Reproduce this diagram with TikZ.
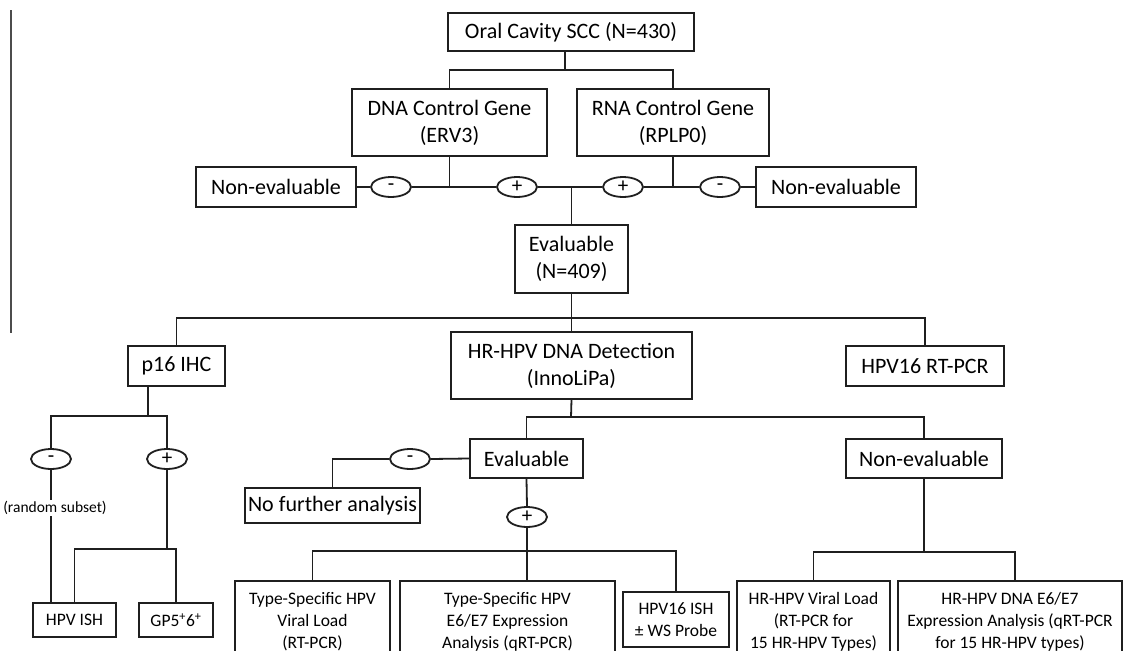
\documentclass[tikz,border=0pt]{standalone}
\usepackage{fontspec}
\setmainfont{Carlito}
\usetikzlibrary{calc}
\usetikzlibrary{shapes.geometric}
\tikzset{
  box/.style={draw=black!88, line width=1.8pt, fill=white, inner sep=0pt, align=center, font=\fontsize{22}{27}\selectfont},
  sbox/.style={box, font=\fontsize{17.5}{22}\selectfont},
  sign/.style={draw=black!88, line width=1.8pt, fill=white, ellipse, inner sep=0pt, minimum width=40pt, minimum height=20pt, font=\fontsize{21}{21}\selectfont},
  conn/.style={draw=black!88, line width=1.8pt},
  lbl/.style={fill=white, inner sep=1pt, font=\fontsize{15.5}{16}\selectfont}
}
\begin{document}
\begin{tikzpicture}[x=1pt,y=-1pt]
\clip (0,0) rectangle (1136,651);
\fill[white] (0,0) rectangle (1136,651);
% nodes
\node[box, minimum width=246pt, minimum height=38pt] (top) at (571,32) {Oral Cavity SCC (N=430)};
\node[box, minimum width=195pt, minimum height=67pt] (dna) at (449.5,122.5) {DNA Control Gene\\(ERV3)};
\node[box, minimum width=192pt, minimum height=67pt] (rna) at (673,122.5) {RNA Control Gene\\(RPLP0)};
\node[box, minimum width=160pt, minimum height=40pt] (nel) at (276,187) {Non-evaluable};
\node[box, minimum width=160pt, minimum height=40pt] (ner) at (836,187) {Non-evaluable};
\node[sign] (e1) at (391,187) {-};
\node[sign] (e2) at (517,187) {+};
\node[sign] (e3) at (623,187) {+};
\node[sign] (e4) at (720,187) {-};
\node[box, minimum width=113pt, minimum height=68pt] (ev) at (571.5,259) {Evaluable\\(N=409)};
\node[box, minimum width=97pt, minimum height=40pt] (p16) at (176.5,366) {p16 IHC};
\node[box, minimum width=241pt, minimum height=67pt] (hr) at (571.5,365.5) {HR-HPV DNA Detection\\(InnoLiPa)};
\node[box, minimum width=158pt, minimum height=40pt] (rt) at (925,366) {HPV16 RT-PCR};
\node[box, minimum width=113pt, minimum height=39pt] (ev2) at (526.5,458.5) {Evaluable};
\node[box, minimum width=156pt, minimum height=39pt] (ne2) at (924,458.5) {Non-evaluable};
\node[sign] (e5) at (410,459) {-};
\node[sign] (e6) at (527,517) {+};
\node[box, minimum width=175pt, minimum height=35pt] (nfa) at (332.5,505.5) {No further analysis};
\node[sign] (e7) at (51,459) {-};
\node[sign] (e8) at (167,459) {+};
\node[sbox, minimum width=155pt, minimum height=82pt, anchor=north] (ts1) at (312.5,580) {Type-Specific HPV\\Viral Load\\(RT-PCR)};
\node[sbox, minimum width=215pt, minimum height=82pt, anchor=north] (ts2) at (507.5,580) {Type-Specific HPV\\E6/E7 Expression\\Analysis (qRT-PCR)};
\node[sbox, minimum width=106pt, minimum height=55pt] (ish16) at (676,619.5) {HPV16 ISH\\± WS Probe};
\node[sbox, minimum width=153pt, minimum height=82pt, anchor=north] (hrvl) at (813.5,580) {HR-HPV Viral Load\\(RT-PCR for\\15 HR-HPV Types)};
\node[sbox, minimum width=224pt, minimum height=82pt, anchor=north] (hre6) at (1010,580) {HR-HPV DNA E6/E7\\Expression Analysis (qRT-PCR\\for 15 HR-HPV types)};
\node[sbox, minimum width=83pt, minimum height=34pt] (hpvish) at (74.5,620) {HPV ISH};
\node[sbox, minimum width=74pt, minimum height=34pt] (gp) at (176,620) {GP5\textsuperscript{+}6\textsuperscript{+}};
% coordinates
\coordinate (j0) at (565,70);
\coordinate (h2) at (571,318);
\coordinate (h3) at (571,417);
\coordinate (h4) at (527,551);
\coordinate (h5) at (924,552);
\coordinate (h6) at (148,416);
\coordinate (h7) at (167,549);
\coordinate (lt) at (11,10);
\coordinate (lb) at (11,333);
% connectors
\draw[draw=black!70, line width=1.3pt] (lt) -- (lb);
\draw[conn] ([xshift=-6pt]top.south) -- (j0);
\draw[conn] (dna.north) -- (dna.north |- j0) -- (rna.north |- j0) -- (rna.north);
\draw[conn] (nel.east) -- (e1.west);
\draw[conn] (e1.east) -- (e2.west);
\draw[conn] (e2.east) -- (e3.west);
\draw[conn] (e3.east) -- (e4.west);
\draw[conn] (e4.east) -- (ner.west);
\draw[conn] (dna.south) -- (dna.south |- e1);
\draw[conn] (rna.south) -- (rna.south |- e1);
\draw[conn] (ev.north) -- (ev.north |- e1);
\draw[conn] (ev.south) -- (hr.north);
\draw[conn] (p16.north) -- (p16.north |- h2) -- (rt.north |- h2) -- (rt.north);
\draw[conn] (hr.south) -- (h3);
\draw[conn] (ev2.north) -- (ev2.north |- h3) -- (ne2.north |- h3) -- (ne2.north);
\draw[conn] (ev2.west) -- (e5.east);
\draw[conn] (e5.west) -- (nfa.north |- e5) -- (nfa.north);
\draw[conn] (ev2.south) -- (e6.north);
\draw[conn] (e6.south) -- (e6.south |- ts2.north);
\draw[conn] (ts1.north) -- (ts1.north |- h4) -- (ish16.north |- h4) -- (ish16.north);
\draw[conn] (ne2.south) -- (h5);
\draw[conn] (hrvl.north) -- (hrvl.north |- h5) -- ([xshift=5pt]hre6.north |- h5) -- ([xshift=5pt]hre6.north);
\draw[conn] ([xshift=-28.5pt]p16.south) -- (h6);
\draw[conn] (e7.north) -- (e7.north |- h6) -- (e8.north |- h6) -- (e8.north);
\draw[conn] (e7.south) -- (e7.south |- hpvish.north);
\node[lbl] (rs) at (55,508) {(random subset)};
\draw[conn] (e8.south) -- (h7);
\draw[conn] (hpvish.north) -- (hpvish.north |- h7) -- (gp.north |- h7) -- (gp.north);
\end{tikzpicture}
\end{document}
